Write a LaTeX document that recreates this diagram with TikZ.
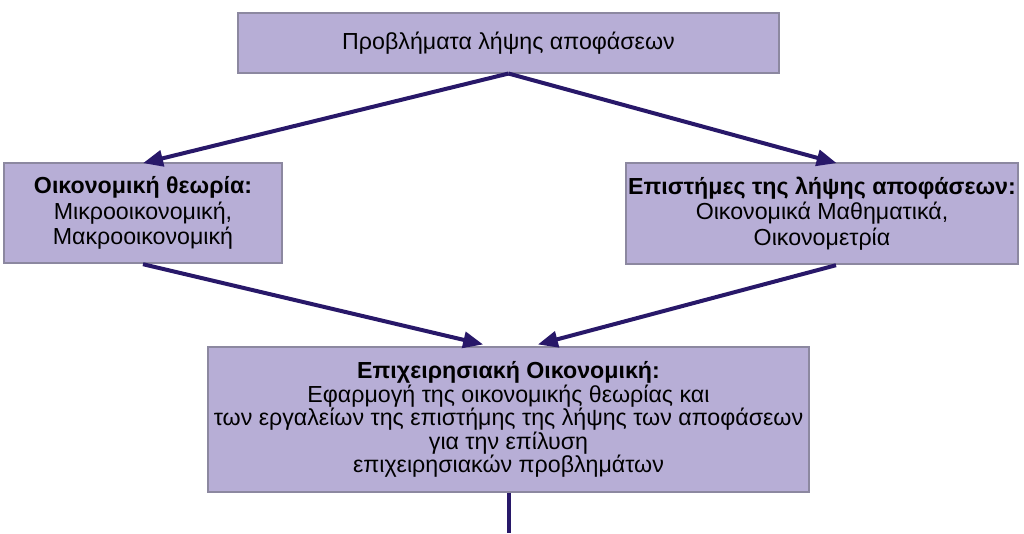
\documentclass[tikz,border=0pt]{standalone}
\usepackage{fontspec}
\setmainfont{Liberation Sans}
\usetikzlibrary{arrows.meta}
\definecolor{boxfill}{RGB}{183,174,214}
\definecolor{boxline}{RGB}{140,136,160}
\definecolor{arrowcol}{RGB}{40,24,105}
\tikzset{
  box/.style={draw=boxline, line width=0.8pt, fill=boxfill, align=center, inner sep=0pt,
    font=\fontsize{17.4}{17.6}\selectfont, text=black},
  loose/.style={font=\fontsize{17.4}{19}\selectfont},
  conn/.style={draw=arrowcol, line width=3pt},
  arr/.style={conn, -{Triangle[length=15pt,width=12pt]}}
}
\begin{document}
\begin{tikzpicture}[x=0.75pt,y=-0.75pt]
\useasboundingbox (0,0) rectangle (1024,533);
\node[box, minimum width=405.75pt, minimum height=45pt] (top) at (508.5,43) {Προβλήματα λήψης αποφάσεων};
\node[box, loose, minimum width=208.5pt, minimum height=75pt] (left) at (143,213) {\textbf{Οικονομική θεωρία:}\\Μικροοικονομική,\\Μακροοικονομική};
\node[box, loose, minimum width=294pt, minimum height=75.75pt] (right) at (822,213.5) {\textbf{Επιστήμες της λήψης αποφάσεων:}\\Οικονομικά Μαθηματικά,\\Οικονομετρία};
\node[box, minimum width=450.75pt, minimum height=108.75pt] (bottom) at (508.5,419.5) {\textbf{Επιχειρησιακή Οικονομική:}\\Εφαρμογή της οικονομικής θεωρίας και\\των εργαλείων της επιστήμης της λήψης των αποφάσεων\\για την επίλυση\\επιχειρησιακών προβλημάτων};
\coordinate (end) at (508.5,533);
\draw[arr] (top.south) -- ([yshift=-0.5pt]left.north);
\draw[arr] (top.south) -- ([xshift=11pt,yshift=-0.5pt]right.north);
\draw[arr] ([yshift=-0.5pt]left.south) -- ([xshift=-19pt,yshift=1.5pt]bottom.north);
\draw[arr] ([xshift=10.5pt,yshift=-0.5pt]right.south) -- ([xshift=22pt,yshift=1.5pt]bottom.north);
\draw[conn] (bottom.south) -- (end);
\end{tikzpicture}
\end{document}
